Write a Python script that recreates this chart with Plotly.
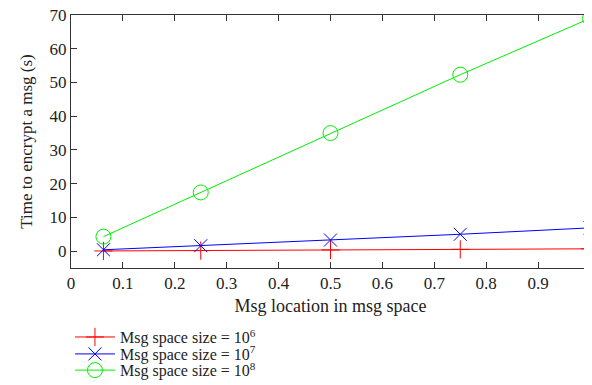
import plotly.graph_objects as go

x_vals = [0.0625, 0.25, 0.5, 0.75, 1.0]
y_1e6 = [0.05, 0.17, 0.35, 0.52, 0.69]
y_1e7 = [0.4, 1.6, 3.3, 5.0, 6.9]
y_1e8 = [4.3, 17.4, 35.0, 52.3, 69.0]
names = ["Msg space size = 10<sup>6</sup>", "Msg space size = 10<sup>7</sup>", "Msg space size = 10<sup>8</sup>"]
x_ticks = [0, 0.1, 0.2, 0.3, 0.4, 0.5, 0.6, 0.7, 0.8, 0.9, 1]
x_tick_text = ["0", "0.1", "0.2", "0.3", "0.4", "0.5", "0.6", "0.7", "0.8", "0.9", "1"]
y_ticks = [0, 10, 20, 30, 40, 50, 60, 70]

font = "Liberation Serif"
fig = go.Figure()
fig.add_trace(go.Scatter(x=x_vals, y=y_1e6, name=names[0], mode="lines+markers", cliponaxis=False,
                         legend="legend",
                         line=dict(color="#ff0000", width=1),
                         marker=dict(symbol="cross-thin", size=13, line=dict(color="#ff0000", width=1))))
fig.add_trace(go.Scatter(x=x_vals, y=y_1e7, name=names[1], mode="lines+markers", cliponaxis=False,
                         legend="legend2",
                         line=dict(color="#0000ff", width=1),
                         marker=dict(symbol="x-thin", size=13, line=dict(color="#0000ff", width=1))))
fig.add_trace(go.Scatter(x=x_vals, y=y_1e8, name=names[2], mode="lines+markers", cliponaxis=False,
                         legend="legend3",
                         line=dict(color="#00ee00", width=1),
                         marker=dict(symbol="circle-open", size=15, color="#00ee00", line=dict(width=1))))

leg = dict(x=-0.002, xanchor="left", yanchor="middle", font=dict(size=16, family=font, color="#222"),
           itemwidth=40, bgcolor="rgba(0,0,0,0)")

fig.update_layout(
    width=584, height=377,
    margin=dict(l=63, r=2, t=7, b=117, autoexpand=False),
    paper_bgcolor="white", plot_bgcolor="white",
    font=dict(family=font, size=17, color="#222"),
    showlegend=True,
    legend=dict(leg, y=-0.273),
    legend2=dict(leg, y=-0.340),
    legend3=dict(leg, y=-0.404),
    xaxis=dict(range=[0, 1], tickvals=x_ticks, ticktext=x_tick_text, ticks="inside", ticklen=6,
               showgrid=False, zeroline=False, showline=True, linecolor="#333", linewidth=1,
               mirror="ticks", tickcolor="#333", automargin=False, ticklabeloverflow="allow",
               title=dict(text="Msg location in msg space", font=dict(size=18), standoff=6)),
    yaxis=dict(range=[-5, 70], tickvals=y_ticks, ticks="inside", ticklen=6,
               showgrid=False, zeroline=False, showline=True, linecolor="#333", linewidth=1,
               mirror="ticks", tickcolor="#333", automargin=False, ticklabeloverflow="allow",
               title=dict(text="Time to encrypt a msg (s)", font=dict(size=17), standoff=12)),
)
fig.write_html("out.html")
